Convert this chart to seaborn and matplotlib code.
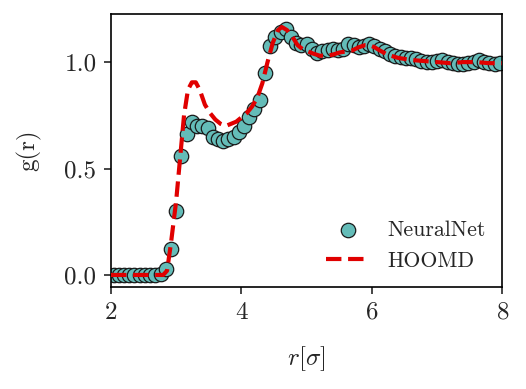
import matplotlib
matplotlib.use('Agg')
import matplotlib.pyplot as plt
import seaborn as sns

# NeuralNet g(r)
r_nn = [2.04, 2.12, 2.20, 2.28, 2.36, 2.44, 2.52, 2.60, 2.68, 2.76,
        2.84, 2.92, 3.00, 3.08, 3.16, 3.24, 3.32, 3.40, 3.48, 3.56,
        3.64, 3.72, 3.80, 3.88, 3.96, 4.04, 4.12, 4.20, 4.28, 4.36,
        4.44, 4.52, 4.60, 4.68, 4.76, 4.84, 4.92, 5.00, 5.08, 5.16,
        5.24, 5.32, 5.40, 5.48, 5.56, 5.64, 5.72, 5.80, 5.88, 5.96,
        6.04, 6.12, 6.20, 6.28, 6.36, 6.44, 6.52, 6.60, 6.68, 6.76,
        6.84, 6.92, 7.00, 7.08, 7.16, 7.24, 7.32, 7.40, 7.48, 7.56,
        7.64, 7.72, 7.80, 7.88, 7.96]
g_nn = [0.0, 0.0, 0.0, 0.0, 0.0, 0.0, 0.0, 0.0, 0.0, 0.005,
        0.03, 0.12, 0.30, 0.56, 0.66, 0.72, 0.70, 0.70, 0.69, 0.65,
        0.64, 0.63, 0.64, 0.65, 0.67, 0.70, 0.74, 0.78, 0.82, 0.95,
        1.075, 1.12, 1.14, 1.155, 1.12, 1.09, 1.08, 1.085, 1.06, 1.045,
        1.05, 1.055, 1.06, 1.055, 1.06, 1.085, 1.08, 1.07, 1.075, 1.085,
        1.075, 1.06, 1.05, 1.04, 1.03, 1.025, 1.02, 1.02, 1.015, 1.005,
        1.0, 1.0, 1.005, 1.01, 1.0, 0.995, 0.99, 0.99, 0.995, 1.0,
        1.01, 1.0, 0.995, 0.99, 0.995]

# HOOMD reference g(r)
r_md = [2.0, 2.80, 2.86, 2.92, 3.00, 3.06, 3.12, 3.18, 3.24, 3.30,
        3.36, 3.44, 3.52, 3.60, 3.68, 3.76, 3.84, 3.92, 4.00, 4.08,
        4.16, 4.24, 4.32, 4.40, 4.48, 4.56, 4.62, 4.70, 4.78, 4.86,
        4.94, 5.02, 5.10, 5.20, 5.30, 5.40, 5.50, 5.60, 5.70, 5.80,
        5.90, 5.96, 6.04, 6.12, 6.24, 6.40, 6.60, 6.80, 7.00, 7.20,
        7.40, 7.60, 7.80, 8.0]
g_md = [0.0, 0.0, 0.02, 0.15, 0.35, 0.55, 0.75, 0.87, 0.905, 0.905,
        0.87, 0.80, 0.76, 0.73, 0.71, 0.70, 0.71, 0.72, 0.74, 0.76,
        0.79, 0.83, 0.90, 1.00, 1.09, 1.15, 1.165, 1.15, 1.12, 1.08,
        1.06, 1.05, 1.04, 1.03, 1.03, 1.035, 1.045, 1.05, 1.055, 1.07,
        1.08, 1.08, 1.07, 1.055, 1.035, 1.02, 1.01, 1.005, 1.0, 0.995,
        1.0, 1.0, 0.995, 0.995]

sns.set_style('ticks')
plt.rcParams['font.family'] = 'serif'
plt.rcParams['font.serif'] = ['cmr10', 'DejaVu Serif']
plt.rcParams['mathtext.fontset'] = 'cm'
plt.rcParams['axes.formatter.use_mathtext'] = True
plt.rcParams['axes.unicode_minus'] = False

fig = plt.figure(figsize=(526 / 150, 389 / 150), dpi=150)
ax = fig.add_axes([0.211, 0.262, 0.744, 0.702])

sns.scatterplot(x=r_nn, y=g_nn, ax=ax, s=48, color='#64bcb8', edgecolor='#1a1a1a',
                linewidth=0.6, label='NeuralNet', zorder=2)
sns.lineplot(x=r_md, y=g_md, ax=ax, color='#e00000', linestyle='--', linewidth=2,
             label='HOOMD', zorder=3)

ax.set_xlim(2, 8)
ax.set_ylim(-0.057, 1.226)
ax.set_xticks([2, 4, 6, 8])
ax.set_yticks([0.0, 0.5, 1.0])
ax.set_yticklabels(['0.0', '0.5', '1.0'])
ax.tick_params(labelsize=12, length=3.5, width=0.8, direction='out')
for sp in ax.spines.values():
    sp.set_linewidth(0.8)
    sp.set_color('black')

ax.set_xlabel(r'$r[\sigma]$', fontsize=12, labelpad=10)
ax.set_ylabel('g(r)', fontsize=12, labelpad=11)
ax.legend(loc='lower right', frameon=False, fontsize=10.5, borderaxespad=0.35,
          labelspacing=0.5)

plt.savefig('out.png', dpi=150)
